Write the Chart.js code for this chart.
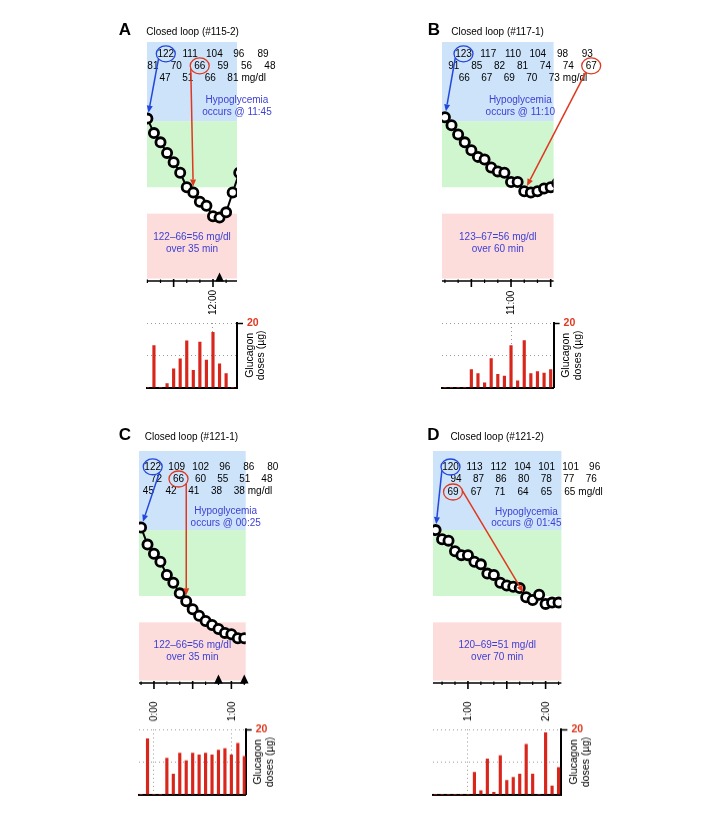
<!DOCTYPE html>
<html>
<head>
<meta charset="utf-8">
<script src="https://cdn.jsdelivr.net/npm/chart.js@4.4.1/dist/chart.umd.min.js"></script>
<style>
  body { margin: 0; background: #fff; }
  #page { position: relative; width: 719px; height: 816px; overflow: hidden; background: #fff; }
  canvas { position: absolute; }
</style>
</head>
<body>
<div id="page"></div>
<script>
// glucose readings (mg/dl), one every 5 min
var glucoseA = [122, 111, 104, 96, 89, 81, 70, 66, 59, 56, 48, 47, 51, 66, 81];
var glucoseB = [123, 117, 110, 104, 98, 93, 91, 85, 82, 81, 74, 74, 67, 66, 67, 69, 70, 73];
var glucoseC = [122, 109, 102, 96, 86, 80, 72, 66, 60, 55, 51, 48, 45, 42, 41, 38, 38];
var glucoseD = [120, 113, 112, 104, 101, 101, 96, 94, 87, 86, 80, 78, 77, 76, 69, 67, 71, 64, 65, 65];

// glucagon doses (ug) on the same 5 min grid
var glucagonA = [0, 13.0, 0, 1.3, 5.8, 8.9, 14.5, 5.4, 14.1, 8.5, 17.1, 7.4, 4.4, 0, 0];
var glucagonB = [0, 0, 0, 0, 5.6, 4.4, 1.5, 9.0, 4.1, 3.6, 13.0, 2.1, 14.6, 4.4, 5.0, 4.5, 5.6, 0];
var glucagonC = [0, 17.1, 0, 0, 11.2, 6.3, 12.7, 10.4, 12.7, 12.2, 12.7, 12.2, 13.6, 14.1, 12.2, 15.7, 11.7];
var glucagonD = [0, 0, 0, 0, 0, 0, 6.8, 1.2, 10.9, 0.7, 11.9, 4.4, 5.3, 6.3, 15.4, 6.3, 0, 19.0, 2.7, 8.3];

// time of first reading, minutes after midnight
var startA = 670, startB = 610, startC = -10, startD = 35;
// index of first reading < 70 mg/dl
var hypoA = 7, hypoB = 12, hypoC = 7, hypoD = 14;
// how the readings are split over the three text rows
var rowsA = [5, 6, 4], rowsB = [6, 7, 5], rowsC = [6, 6, 5], rowsD = [7, 7, 6];
// triangle markers on the time axis
var markersA = [725], markersB = [], markersC = [50, 70], markersD = [];
// labelled hours
var hoursA = [720], hoursB = [660], hoursC = [0, 60], hoursD = [60, 120];
var studyIds = ['#115-2', '#117-1', '#121-1', '#121-2'];

// glucose bands
var HIGH = 180, TARGET_HI = 120, TARGET_LO = 70, HYPO_MAX = 50;

var FONT = '"Liberation Sans", Arial, Helvetica, sans-serif';
Chart.defaults.font.family = FONT;

var BLUE_BAND = '#cde3fa', GREEN_BAND = '#cff6cf', PINK_BAND = '#fddcdc';
var TEXT_BLUE = '#3c3fd4', RING_BLUE = '#2346dc', RED = '#e0381f', BAR_RED = '#d8261c';

function pad2(n) { return (n < 10 ? '0' : '') + n; }
function clock(m, lead) {
    m = ((m % 1440) + 1440) % 1440;
    var h = Math.floor(m / 60);
    return (lead ? pad2(h) : h) + ':' + pad2(m % 60);
}

function addCanvas(x, y, w, h) {
    var c = document.createElement('canvas');
    c.width = w; c.height = h;
    c.style.left = x + 'px'; c.style.top = y + 'px';
    c.style.width = w + 'px'; c.style.height = h + 'px';
    document.getElementById('page').appendChild(c);
    return c;
}

function arrow(ctx, x1, y1, x2, y2, color) {
    var a = Math.atan2(y2 - y1, x2 - x1), hl = 7, hw = 3;
    var bx = x2 - hl * Math.cos(a), by = y2 - hl * Math.sin(a);
    ctx.strokeStyle = color; ctx.fillStyle = color; ctx.lineWidth = 1.5;
    ctx.beginPath(); ctx.moveTo(x1, y1); ctx.lineTo(bx, by); ctx.stroke();
    ctx.beginPath();
    ctx.moveTo(x2, y2);
    ctx.lineTo(bx + hw * Math.sin(a), by - hw * Math.cos(a));
    ctx.lineTo(bx - hw * Math.sin(a), by + hw * Math.cos(a));
    ctx.closePath(); ctx.fill();
}

var panels = [
    { letter: 'A', id: studyIds[0], glucose: glucoseA, glucagon: glucagonA, start: startA, hypo: hypoA,
      split: rowsA, markers: markersA, hours: hoursA,
      L: 146.7, R: 236.7, T: 41.7, B: 280.7, xMin: 669.7, xMax: 738.3, yMin: -1, yMax: 180, barT: 323.3, barB: 388.3,
      rows: [[18.8, 24.3], [5.9, 23.4], [18.1, 22.6]], rowY: [11.8, 23.8, 35.8],
      hypoX: 90, hypoY: [58.3, 70.3], pinkY: [23.3, 35.8], blueAng: 140, redAng: 160,
      letterX: 118.5, letterY: 35, titleX: 146, titleY: 34.5 },
    { letter: 'B', id: studyIds[1], glucose: glucoseB, glucagon: glucagonB, start: startB, hypo: hypoB,
      split: rowsB, markers: markersB, hours: hoursB,
      L: 441.7, R: 553.3, T: 41.7, B: 280.7, xMin: 607.8, xMax: 692.2, yMin: -1, yMax: 180, barT: 323.3, barB: 388.3,
      rows: [[21.5, 24.75], [11.8, 22.9], [22.3, 22.5]], rowY: [11.8, 23.8, 35.8],
      hypoX: 78.3, hypoY: [58.3, 70.3], pinkY: [23.3, 35.8], blueAng: 150, redAng: 125,
      letterX: 427.5, letterY: 35, titleX: 451, titleY: 34.8 },
    { letter: 'C', id: studyIds[2], glucose: glucoseC, glucagon: glucagonC, start: startC, hypo: hypoC,
      split: rowsC, markers: markersC, hours: hoursC,
      L: 139.3, R: 246, T: 450.7, B: 683, xMin: -11.6, xMax: 71.1, yMin: 4, yMax: 180, barT: 729.3, barB: 795,
      rows: [[13.7, 24], [17.4, 22.1], [9.4, 22.7]], rowY: [15.8, 28, 40.3],
      hypoX: 86.7, hypoY: [60.1, 71.8], pinkY: [22.7, 34.4], blueAng: 45, redAng: 35,
      letterX: 119, letterY: 439.5, titleX: 145, titleY: 440 },
    { letter: 'D', id: studyIds[3], glucose: glucoseD, glucagon: glucagonD, start: startD, hypo: hypoD,
      split: rowsD, markers: markersD, hours: hoursD,
      L: 433.3, R: 561.7, T: 450.7, B: 683, xMin: 33, xMax: 132.2, yMin: 4, yMax: 180, barT: 729.3, barB: 795,
      rows: [[17.5, 24.03], [23, 22.55], [20, 23.35]], rowY: [16, 28.6, 41],
      hypoX: 93.4, hypoY: [61, 72.6], pinkY: [22.7, 34.4], blueAng: 155, redAng: -10,
      letterX: 427.5, letterY: 439.5, titleX: 450.7, titleY: 440 }
];

function glucoseDecor(p, gx, gy, times) {
    return {
        id: 'glucoseDecor',
        beforeDatasetsDraw: function (chart) {
            var ctx = chart.ctx, a = chart.chartArea, y = chart.scales.y, w = a.right - a.left;
            ctx.save();
            ctx.fillStyle = BLUE_BAND;
            ctx.fillRect(a.left, y.getPixelForValue(HIGH), w, y.getPixelForValue(TARGET_HI) - y.getPixelForValue(HIGH));
            ctx.fillStyle = GREEN_BAND;
            ctx.fillRect(a.left, y.getPixelForValue(TARGET_HI), w, y.getPixelForValue(TARGET_LO) - y.getPixelForValue(TARGET_HI));
            ctx.fillStyle = PINK_BAND;
            ctx.fillRect(a.left, y.getPixelForValue(HYPO_MAX), w, a.bottom - 2.5 - y.getPixelForValue(HYPO_MAX));
            ctx.restore();
        },
        afterDatasetsDraw: function (chart) {
            var ctx = chart.ctx, a = chart.chartArea, xs = chart.scales.x, ys = chart.scales.y;
            ctx.save();

            // time axis with 10 min ticks, longer every 30 min
            ctx.strokeStyle = '#000'; ctx.lineWidth = 1.5;
            ctx.beginPath(); ctx.moveTo(a.left, a.bottom); ctx.lineTo(a.right, a.bottom); ctx.stroke();
            for (var t = Math.ceil(p.xMin / 10) * 10; t <= p.xMax; t += 10) {
                var px = xs.getPixelForValue(t), major = ((t % 30) + 30) % 30 === 0;
                ctx.lineWidth = major ? 1.6 : 1.2;
                ctx.beginPath();
                ctx.moveTo(px, a.bottom - (major ? 2 : 1.5));
                ctx.lineTo(px, a.bottom + (major ? 6 : 2));
                ctx.stroke();
            }
            ctx.fillStyle = '#000';
            p.markers.forEach(function (m) {
                var mx = xs.getPixelForValue(m);
                ctx.beginPath();
                ctx.moveTo(mx, a.bottom - 8.5);
                ctx.lineTo(mx + 4.3, a.bottom + 0.5);
                ctx.lineTo(mx - 4.3, a.bottom + 0.5);
                ctx.closePath(); ctx.fill();
            });

            // panel letter and title
            ctx.textBaseline = 'alphabetic'; ctx.textAlign = 'left';
            ctx.font = 'bold 17px ' + FONT;
            ctx.fillText(p.letter, p.letterX - gx, p.letterY - gy);
            ctx.font = '10px ' + FONT;
            ctx.fillText('Closed loop (' + p.id + ')', p.titleX - gx, p.titleY - gy);

            // readings as text rows
            ctx.font = '10px ' + FONT; ctx.textAlign = 'center'; ctx.textBaseline = 'middle';
            var cells = [], k = 0;
            p.split.forEach(function (n, r) {
                for (var c = 0; c < n; c++) {
                    var cx = a.left + p.rows[r][0] + c * p.rows[r][1], cy = a.top + p.rowY[r];
                    ctx.fillText(String(p.glucose[k]), cx, cy);
                    cells.push([cx, cy]);
                    k++;
                }
            });
            var last = cells[cells.length - 1];
            var lw = ctx.measureText(String(p.glucose[k - 1])).width;
            ctx.textAlign = 'left';
            ctx.fillText('mg/dl', last[0] + lw / 2 + 3, last[1]);

            function ring(ci, ang, color, target) {
                var c = cells[ci];
                ctx.strokeStyle = color; ctx.lineWidth = 1.3;
                ctx.beginPath(); ctx.ellipse(c[0], c[1], 9.5, 8, 0, 0, Math.PI * 2); ctx.stroke();
                var r = ang * Math.PI / 180;
                var sx = c[0] + 9.5 * Math.cos(r), sy = c[1] + 8 * Math.sin(r);
                var tx = xs.getPixelForValue(times[target]), ty = ys.getPixelForValue(p.glucose[target]);
                var d = Math.hypot(tx - sx, ty - sy);
                arrow(ctx, sx, sy, tx - (tx - sx) / d * 6, ty - (ty - sy) / d * 6, color);
            }
            ring(0, p.blueAng, RING_BLUE, 0);
            ring(p.hypo, p.redAng, RED, p.hypo);

            // annotations
            ctx.fillStyle = TEXT_BLUE; ctx.textAlign = 'center'; ctx.font = '10px ' + FONT;
            ctx.fillText('Hypoglycemia', a.left + p.hypoX, a.top + p.hypoY[0]);
            ctx.fillText('occurs @ ' + clock(times[p.hypo], true), a.left + p.hypoX, a.top + p.hypoY[1]);
            var v0 = p.glucose[0], vk = p.glucose[p.hypo];
            var pinkTop = ys.getPixelForValue(HYPO_MAX), mid = (a.left + a.right) / 2;
            ctx.fillText(v0 + '\u2013' + vk + '=' + (v0 - vk) + ' mg/dl', mid, pinkTop + p.pinkY[0]);
            ctx.fillText('over ' + (5 * p.hypo) + ' min', mid, pinkTop + p.pinkY[1]);
            ctx.restore();
        }
    };
}

// rotated hour labels above the dose panel and the vertical axis title
var doseDecor = {
    id: 'doseDecor',
    afterDraw: function (chart) {
        var ctx = chart.ctx, a = chart.chartArea, xs = chart.scales.x;
        ctx.save();
        ctx.fillStyle = '#000';
        ctx.font = '10px ' + FONT;
        ctx.textAlign = 'left'; ctx.textBaseline = 'middle';
        xs.ticks.forEach(function (t) {
            ctx.save();
            ctx.translate(xs.getPixelForValue(t.value) + 0.5, a.top - 8);
            ctx.rotate(-Math.PI / 2);
            ctx.fillText(clock(t.value), 0, 0);
            ctx.restore();
        });
        ctx.translate(a.right + 12.8, (a.top + a.bottom) / 2);
        ctx.rotate(-Math.PI / 2);
        ctx.font = '10.5px ' + FONT;
        ctx.textAlign = 'center';
        ctx.fillText('Glucagon', 0, 0);
        ctx.fillText('doses (\u00b5g)', 0, 11.5);
        ctx.restore();
    }
};

function makePanel(p) {
    var times = p.glucose.map(function (v, i) { return p.start + 5 * i; });

    // glucose trace
    var gx = p.L - 45, gy = p.T - 32, gw = 220, gh = p.B - gy + 12;
    new Chart(addCanvas(gx, gy, gw, gh), {
        type: 'line',
        data: {
            datasets: [{
                data: times.map(function (t, i) { return { x: t, y: p.glucose[i] }; }),
                borderColor: '#000', borderWidth: 2, tension: 0,
                pointRadius: 4.6, pointBorderWidth: 2.8,
                pointBackgroundColor: '#fff', pointBorderColor: '#000',
                clip: 0
            }]
        },
        options: {
            responsive: false, animation: false, events: [],
            layout: { padding: { left: p.L - gx, right: gx + gw - p.R, top: p.T - gy, bottom: gy + gh - p.B } },
            plugins: { legend: { display: false }, tooltip: { enabled: false } },
            scales: {
                x: { type: 'linear', display: false, min: p.xMin, max: p.xMax },
                y: { type: 'linear', display: false, min: p.yMin, max: p.yMax }
            }
        },
        plugins: [glucoseDecor(p, gx, gy, times)]
    });

    // glucagon doses
    var bx = p.L - 45, by = p.barT - 36, bw = 220, bh = p.barB - by + 10;
    new Chart(addCanvas(bx, by, bw, bh), {
        type: 'bar',
        data: {
            datasets: [{
                data: times.map(function (t, i) { return { x: t, y: p.glucagon[i] }; }),
                backgroundColor: BAR_RED, barThickness: 2.5, xAxisID: 'x', yAxisID: 'y'
            }]
        },
        options: {
            responsive: false, animation: false, events: [],
            layout: { padding: { left: p.L - bx, right: bx + bw - p.R - 30, top: p.barT - by - 28, bottom: by + bh - p.barB } },
            plugins: { legend: { display: false }, tooltip: { enabled: false } },
            scales: {
                x: {
                    type: 'linear', position: 'top', min: p.xMin, max: p.xMax, offset: false,
                    afterBuildTicks: function (s) { s.ticks = p.hours.map(function (v) { return { value: v }; }); },
                    afterFit: function (s) { s.height = 28; },
                    ticks: { display: false },
                    grid: { color: '#9a9a9a', lineWidth: 1, drawTicks: false, offset: false },
                    border: { display: false, dash: [1, 3] }
                },
                xb: {
                    type: 'linear', position: 'bottom', min: p.xMin, max: p.xMax, offset: false,
                    afterFit: function (s) { s.height = 0; },
                    ticks: { display: false },
                    grid: { display: false, drawTicks: false },
                    border: { display: true, color: '#000', width: 2 }
                },
                y: {
                    position: 'right', min: 0, max: 20,
                    afterBuildTicks: function (s) { s.ticks = [{ value: 0 }, { value: 10 }, { value: 20 }]; },
                    afterFit: function (s) { s.width = 30; },
                    ticks: { color: RED, padding: 4, font: { size: 10.5, weight: 'bold' },
                             callback: function (v) { return v === 20 ? '20' : ''; } },
                    grid: {
                        color: function (c) { return c.tick && c.tick.value > 0 ? '#9a9a9a' : 'rgba(0,0,0,0)'; },
                        tickColor: function (c) { return c.tick && c.tick.value === 20 ? '#000' : 'rgba(0,0,0,0)'; },
                        tickLength: 6, tickWidth: 1.5, tickBorderDash: []
                    },
                    border: { display: true, color: '#000', width: 2, dash: [1, 3] }
                }
            }
        },
        plugins: [doseDecor]
    });
}

panels.forEach(makePanel);
</script>
</body>
</html>
